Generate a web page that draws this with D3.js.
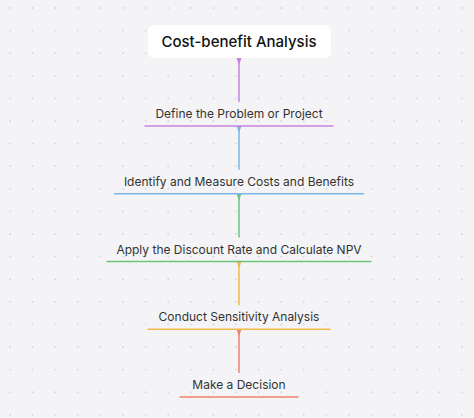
<!DOCTYPE html>
<html><head><meta charset="utf-8">
<script src="https://cdn.jsdelivr.net/npm/d3@7"></script>
<style>body{margin:0;background:#f4f4f6}</style></head>
<body><svg id="c" width="474" height="418"></svg>
<script>
var title = 'Cost-benefit Analysis';
var steps = ['Define the Problem or Project', 'Identify and Measure Costs and Benefits',
  'Apply the Discount Rate and Calculate NPV', 'Conduct Sensitivity Analysis', 'Make a Decision'];
var colors = ['#c983dc', '#7db6e6', '#6cc47c', '#f4b948', '#f0826e'];
var lineWidths = [189, 250, 265, 183, 119];

var svg = d3.select('#c'), cx = 239;
var y = d3.scaleLinear().domain([0, steps.length - 1]).range([126, 397]);

// dot grid
var gx = d3.range(10, 474, 22.6), gy = d3.range(8, 418, 22.6);
svg.append('g').selectAll('circle').data(d3.cross(gx, gy)).join('circle')
  .attr('cx', d => d[0]).attr('cy', d => d[1]).attr('r', 0.9).attr('fill', '#d6d6da');

// connectors
var tops = [58].concat(steps.slice(0, -1).map((_, i) => y(i)));
svg.append('g').selectAll('g').data(steps).join('g').each(function(d, i) {
  var g = d3.select(this), t = tops[i], b = y(i) - 24;
  g.append('line').attr('x1', cx).attr('x2', cx).attr('y1', t).attr('y2', b)
    .attr('stroke', colors[i]).attr('stroke-width', 1.5);
  g.append('path').attr('d', `M${cx-2.5},${t}L${cx+2.5},${t}L${cx},${t+7}Z`).attr('fill', colors[i]);
});

// root
svg.append('rect').attr('x', 148).attr('y', 25).attr('width', 183).attr('height', 33)
  .attr('rx', 6).attr('fill', '#fff');
svg.append('text').attr('x', cx).attr('y', 47).attr('text-anchor', 'middle')
  .attr('font-family', 'Inter, sans-serif').attr('font-size', 15).attr('font-weight', 500)
  .attr('fill', '#111').text(title);

// steps
var sg = svg.append('g').selectAll('g').data(steps).join('g');
sg.append('text').attr('x', cx).attr('y', (d, i) => y(i) - 8).attr('text-anchor', 'middle')
  .attr('font-family', 'Inter, sans-serif').attr('font-size', 12).attr('fill', '#333').text(d => d);
sg.append('line').attr('x1', (d, i) => cx - lineWidths[i] / 2).attr('x2', (d, i) => cx + lineWidths[i] / 2)
  .attr('y1', (d, i) => y(i)).attr('y2', (d, i) => y(i))
  .attr('stroke', (d, i) => colors[i]).attr('stroke-width', 1.5);
</script></body></html>
